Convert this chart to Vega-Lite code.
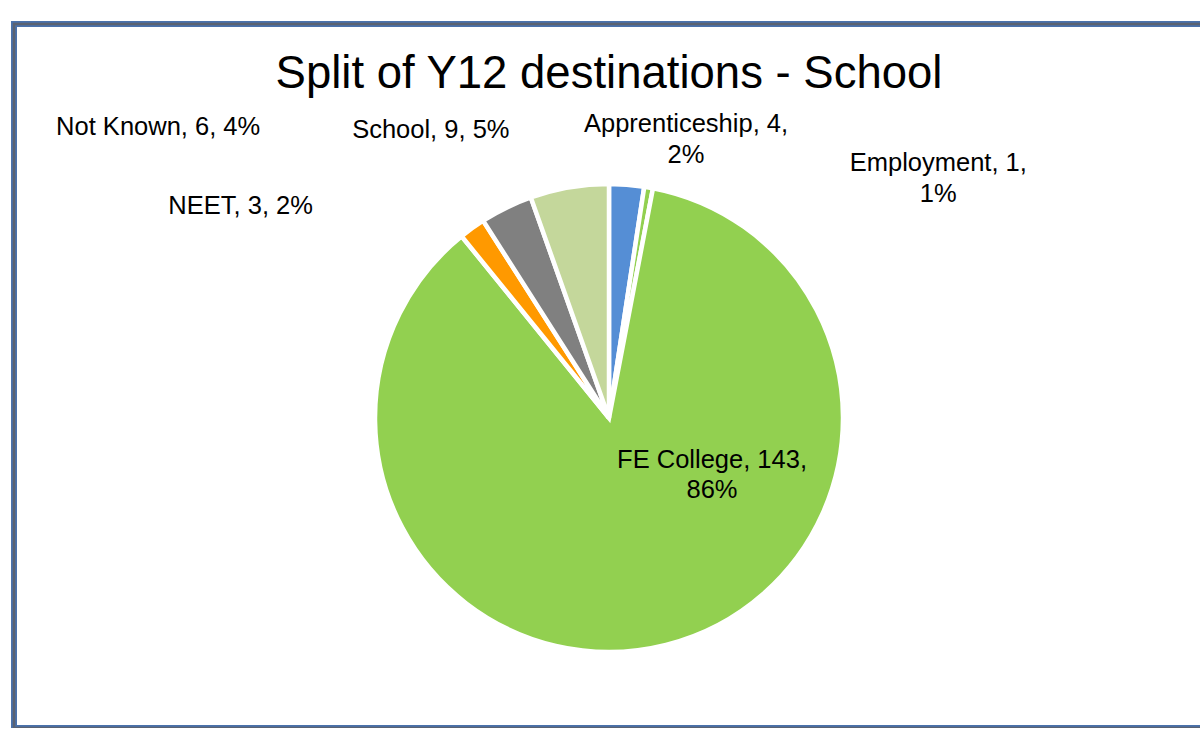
{
  "$schema": "https://vega.github.io/schema/vega-lite/v6.json",
  "autosize": {"type": "none"},
  "padding": {"left": 14, "top": 24, "right": 0, "bottom": 0},
  "width": 1196,
  "height": 704,
  "background": "white",
  "config": {
    "view": {"stroke": null},
    "font": "Liberation Sans"
  },
  "title": {
    "text": "Split of Y12 destinations - School",
    "fontSize": 45.5,
    "fontWeight": "normal",
    "font": "Liberation Sans",
    "color": "#000000",
    "anchor": "middle",
    "frame": "group",
    "baseline": "alphabetic",
    "offset": -112,
    "dx": -3
  },
  "data": {
    "values": [
      {"category": "Apprenticeship", "value": 4, "label": "Apprenticeship, 4,\n2%"},
      {"category": "Employment", "value": 1, "label": "Employment, 1,\n1%"},
      {"category": "FE College", "value": 143, "label": "FE College, 143,\n86%"},
      {"category": "NEET", "value": 3, "label": "NEET, 3, 2%"},
      {"category": "Not Known", "value": 6, "label": "Not Known, 6, 4%"},
      {"category": "School", "value": 9, "label": "School, 9, 5%"}
    ]
  },
  "transform": [
    {"stack": "value", "groupby": [], "sort": [{"field": "category", "order": "ascending"}], "as": ["v0", "v1"]}
  ],
  "layer": [
    {
      "transform": [{"filter": "datum.category === 'FE College'"}],
      "mark": {"type": "rect", "fillOpacity": 0, "stroke": "#4A72AC", "strokeWidth": 6},
      "encoding": {}
    },
    {
      "transform": [{"filter": "datum.category === 'FE College'"}],
      "mark": {"type": "rect", "fillOpacity": 0, "stroke": "#5A6272", "strokeWidth": 2.5},
      "encoding": {}
    },
    {
      "mark": {"type": "arc", "outerRadius": 234, "stroke": "white", "strokeWidth": 4.5, "x": {"expr": "width/2 - 3"}, "y": {"expr": "height/2 + 42"}},
      "encoding": {
        "theta": {"field": "v0", "type": "quantitative", "scale": {"domain": [0, 166]}},
        "theta2": {"field": "v1"},
        "color": {
          "field": "category",
          "type": "nominal",
          "scale": {
            "domain": ["Apprenticeship", "Employment", "FE College", "NEET", "Not Known", "School"],
            "range": ["#558ED5", "#92D050", "#92D050", "#FF9900", "#808080", "#C4D79B"]
          },
          "legend": null
        }
      }
    },
    {
      "transform": [{"filter": "datum.category === 'Apprenticeship'"}],
      "mark": {"type": "text", "radius": 234, "fontSize": 25.5, "align": "center", "baseline": "middle", "lineBreak": "\n", "lineHeight": 31, "color": "#000000", "dx": 77, "dy": -60, "x": {"expr": "width/2 - 3"}, "y": {"expr": "height/2 + 42"}},
      "encoding": {"theta": {"field": "v0", "type": "quantitative"}, "text": {"field": "label"}}
    },
    {
      "transform": [{"filter": "datum.category === 'Employment'"}],
      "mark": {"type": "text", "radius": 234, "fontSize": 25.5, "align": "center", "baseline": "middle", "lineBreak": "\n", "lineHeight": 31, "color": "#000000", "dx": 294, "dy": -24, "x": {"expr": "width/2 - 3"}, "y": {"expr": "height/2 + 42"}},
      "encoding": {"theta": {"field": "v0", "type": "quantitative"}, "text": {"field": "label"}}
    },
    {
      "transform": [{"filter": "datum.category === 'FE College'"}],
      "mark": {"type": "text", "radius": 234, "fontSize": 25.5, "align": "center", "baseline": "middle", "lineBreak": "\n", "lineHeight": 30, "color": "#000000", "dx": 59, "dy": 272, "x": {"expr": "width/2 - 3"}, "y": {"expr": "height/2 + 42"}},
      "encoding": {"theta": {"field": "v0", "type": "quantitative"}, "text": {"field": "label"}}
    },
    {
      "transform": [{"filter": "datum.category === 'NEET'"}],
      "mark": {"type": "text", "radius": 234, "fontSize": 25.5, "align": "center", "baseline": "middle", "lineBreak": "\n", "lineHeight": 31, "color": "#000000", "dx": -221, "dy": -30, "x": {"expr": "width/2 - 3"}, "y": {"expr": "height/2 + 42"}},
      "encoding": {"theta": {"field": "v0", "type": "quantitative"}, "text": {"field": "label"}}
    },
    {
      "transform": [{"filter": "datum.category === 'Not Known'"}],
      "mark": {"type": "text", "radius": 234, "fontSize": 25.5, "align": "center", "baseline": "middle", "lineBreak": "\n", "lineHeight": 31, "color": "#000000", "dx": -325, "dy": -94, "x": {"expr": "width/2 - 3"}, "y": {"expr": "height/2 + 42"}},
      "encoding": {"theta": {"field": "v0", "type": "quantitative"}, "text": {"field": "label"}}
    },
    {
      "transform": [{"filter": "datum.category === 'School'"}],
      "mark": {"type": "text", "radius": 234, "fontSize": 25.5, "align": "center", "baseline": "middle", "lineBreak": "\n", "lineHeight": 31, "color": "#000000", "dx": -100, "dy": -67, "x": {"expr": "width/2 - 3"}, "y": {"expr": "height/2 + 42"}},
      "encoding": {"theta": {"field": "v0", "type": "quantitative"}, "text": {"field": "label"}}
    }
  ]
}
